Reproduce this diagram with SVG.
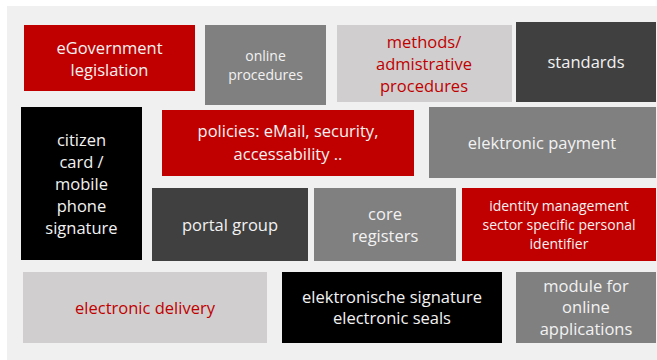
<svg xmlns="http://www.w3.org/2000/svg" width="657" height="360" viewBox="0 0 657 360">
<style>
text{font-family:"Open Sans",Lato,"Liberation Sans",sans-serif;text-anchor:middle;font-size:16.5px}
.w{fill:#f2f2f2}
.r{fill:#c00000}
.s{font-size:14px}
.red{fill:#c00000}
.gray{fill:#808080}
.lg{fill:#d0cece}
.dk{fill:#404040}
.bk{fill:#000000}
</style>
<rect x="0" y="0" width="657" height="360" fill="#ffffff"/>
<rect x="7" y="6" width="650" height="354" fill="#f0f0f0"/>
<g id="egov"><rect class="red" x="24" y="25" width="171" height="66"/><text class="w" x="109.5" y="54">eGovernment</text><text class="w" x="109.5" y="76">legislation</text></g>
<g id="online"><rect class="gray" x="205" y="25" width="121" height="80"/><text class="w s" x="265.5" y="61">online</text><text class="w s" x="265.5" y="80">procedures</text></g>
<g id="methods"><rect class="lg" x="337" y="25" width="175" height="77"/><text class="r" x="424" y="48">methods/</text><text class="r" x="424" y="70">admistrative</text><text class="r" x="424" y="92">procedures</text></g>
<g id="standards"><rect class="dk" x="516" y="22" width="140" height="80"/><text class="w" x="586" y="68">standards</text></g>
<g id="citizen"><rect class="bk" x="21" y="107" width="121" height="153"/><text class="w" x="81.5" y="146">citizen</text><text class="w" x="81.5" y="168">card /</text><text class="w" x="81.5" y="190">mobile</text><text class="w" x="81.5" y="212">phone</text><text class="w" x="81.5" y="234">signature</text></g>
<g id="policies"><rect class="red" x="162" y="110" width="252" height="66"/><text class="w" x="288" y="137">policies: eMail, security,</text><text class="w" x="288" y="160">accessability ..</text></g>
<g id="payment"><rect class="gray" x="429" y="107" width="227" height="71"/><text class="w" x="542" y="149">elektronic payment</text></g>
<g id="portal"><rect class="dk" x="152" y="188" width="156" height="73"/><text class="w" x="230" y="231">portal group</text></g>
<g id="core"><rect class="gray" x="314" y="188" width="142" height="73"/><text class="w" x="385" y="220">core</text><text class="w" x="385" y="242">registers</text></g>
<g id="identity"><rect class="red" x="462" y="188" width="194" height="73"/><text class="w s" x="559" y="211">identity management</text><text class="w s" x="559" y="230">sector specific personal</text><text class="w s" x="559" y="249">identifier</text></g>
<g id="delivery"><rect class="lg" x="23" y="272" width="244" height="71"/><text class="r" x="145" y="314">electronic delivery</text></g>
<g id="signature"><rect class="bk" x="282" y="272" width="220" height="71"/><text class="w" x="392" y="303">elektronische signature</text><text class="w" x="392" y="324">electronic seals</text></g>
<g id="module"><rect class="gray" x="516" y="272" width="140" height="71"/><text class="w" x="586" y="292">module for</text><text class="w" x="586" y="313">online</text><text class="w" x="586" y="335">applications</text></g>
<g id="connectors"></g>
</svg>
